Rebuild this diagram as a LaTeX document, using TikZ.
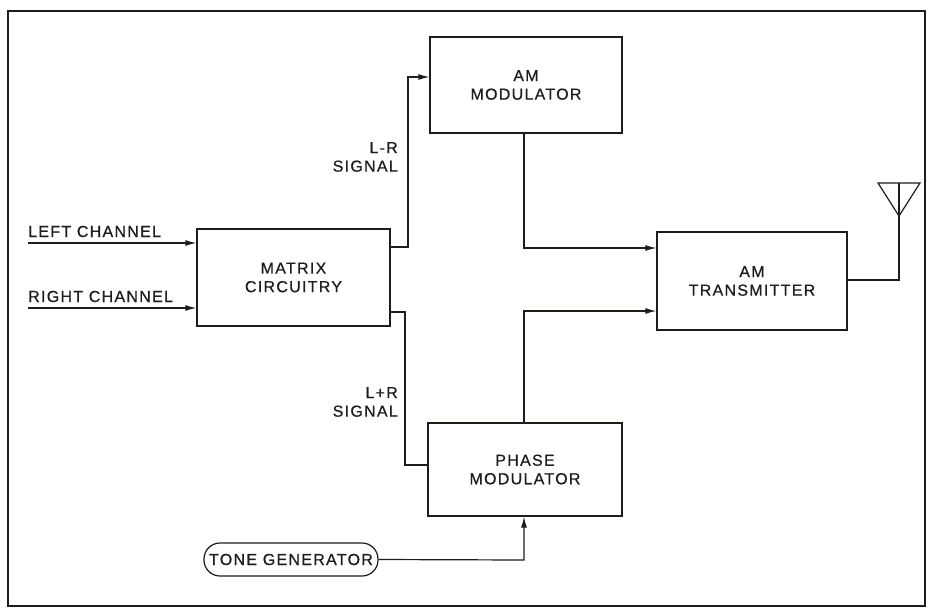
\documentclass[tikz,border=0pt]{standalone}
\usepackage{fontspec}
\newfontfamily\lblfont[LetterSpace=8,FakeBold=0.6]{Liberation Sans}
\usetikzlibrary{arrows.meta}
\definecolor{ink}{RGB}{30,30,25}
\begin{document}
\begin{tikzpicture}[x=1pt,y=-1pt,
  ink/.style={draw=ink, line width=1.2pt},
  blk/.style={ink, inner sep=0pt, align=center, font=\lblfont\fontsize{16}{18.5}\selectfont, text=ink},
  lbl/.style={inner sep=0pt, font=\lblfont\fontsize{16}{18.5}\selectfont, text=ink},
  arr/.style={ink, -{Latex[length=11pt,width=6pt]}},
  wire/.style={ink}]
\useasboundingbox[fill=white] (0,0) rectangle (932,611);
\draw[draw=ink, line width=2.2pt] (8,11) rectangle (925,606);

\node[blk, minimum width=192pt, minimum height=96pt] (amm) at (526,85) {AM\\MODULATOR};
\node[blk, minimum width=193pt, minimum height=97pt] (mx) at (293.5,277.5) {MATRIX\\CIRCUITRY};
\node[blk, minimum width=190pt, minimum height=98pt] (amt) at (752,281) {AM\\TRANSMITTER};
\node[blk, minimum width=194pt, minimum height=93pt] (pm) at (525,469.5) {PHASE\\MODULATOR};
\node[blk, minimum width=174pt, minimum height=33pt, rounded corners=16pt] (tg) at (291,559.5) {TONE GENERATOR};

\node[lbl, anchor=base west] (lcl) at (28,237) {LEFT CHANNEL};
\node[lbl, anchor=base west] (rcl) at (28,302) {RIGHT CHANNEL};
\node[lbl, align=right, anchor=east] (lrl) at (398,157) {L-R\\SIGNAL};
\node[lbl, align=right, anchor=east] (lpl) at (398,402) {L+R\\SIGNAL};

\coordinate (lcs) at (28,243);
\draw[arr] (lcs) -- (lcs -| mx.west);
\coordinate (rcs) at (28,308);
\draw[arr] (rcs) -- (rcs -| mx.west);

\coordinate (lr1) at (408,247);
\coordinate (lr2) at (408,77);
\draw[arr] (mx.east |- lr1) -- (lr1) -- (lr2) -- (lr2 -| amm.west);

\coordinate (lp1) at (405,312);
\coordinate (lp2) at (405,465);
\draw[wire] (mx.east |- lp1) -- (lp1) -- (lp2) -- (lp2 -| pm.west);

\coordinate (a1) at (524,248);
\draw[arr] (amm.south -| a1) -- (a1) -- (a1 -| amt.west);
\coordinate (p1) at (524,311);
\draw[arr] (pm.north -| p1) -- (p1) -- (p1 -| amt.west);

\coordinate (t1) at (524,560);
\draw[arr] (tg.east) -- (t1) -- (pm.south -| t1);

\coordinate (an1) at (899,280);
\coordinate (an2) at (899,183);
\draw[wire] (amt.east |- an1) -- (an1) -- (an2);
\draw[wire, line join=miter] (878,183) -- (920,183) -- (899,216) -- cycle;
\end{tikzpicture}
\end{document}
